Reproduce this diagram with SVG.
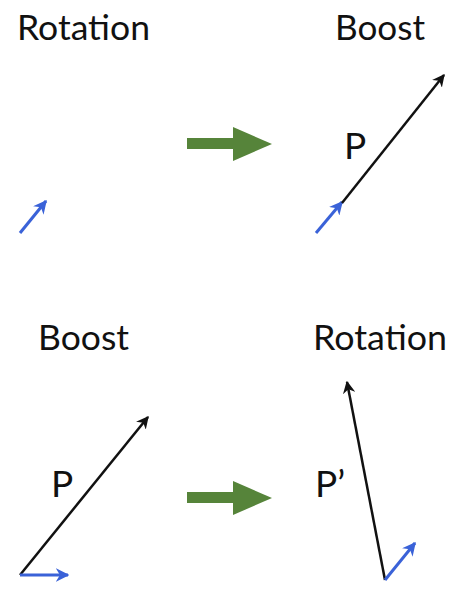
<svg xmlns="http://www.w3.org/2000/svg" width="457" height="600" viewBox="0 0 457 600">
<defs>
<style>
.t{font-family:"Lato","Open Sans","Liberation Sans",sans-serif;font-size:35px;fill:#111}
.p{font-size:37px}
.blk{stroke:#111;stroke-width:2.5;fill:none;marker-end:url(#ak)}
.blu{stroke:#3a62d8;stroke-width:3;fill:none;marker-end:url(#ab)}
.grn{fill:#56843a}
</style>
<marker id="ak" viewBox="0 0 10 10" refX="9" refY="5" markerWidth="5" markerHeight="5" orient="auto" markerUnits="strokeWidth"><path d="M0,0 L10,5 L0,10 L3,5 z" fill="#111"/></marker>
<marker id="ab" viewBox="0 0 10 10" refX="9" refY="5" markerWidth="4.5" markerHeight="4.5" orient="auto" markerUnits="strokeWidth"><path d="M0,0 L10,5 L0,10 L3,5 z" fill="#3a62d8"/></marker>
</defs>
<g id="labels">
<text class="t" x="17" y="40" textLength="133" lengthAdjust="spacingAndGlyphs">Rotation</text>
<text class="t" x="335" y="40" textLength="90" lengthAdjust="spacingAndGlyphs">Boost</text>
<text class="t" x="38" y="350" textLength="91" lengthAdjust="spacingAndGlyphs">Boost</text>
<text class="t" x="313" y="350" textLength="134" lengthAdjust="spacingAndGlyphs">Rotation</text>
<text class="t p" x="344" y="159">P</text>
<text class="t p" x="51" y="497">P</text>
<text class="t p" x="315" y="497">P’</text>
</g>
<g id="connectors">
<line class="blu" x1="20" y1="233" x2="46" y2="201"/>
<line class="blu" x1="316" y1="233" x2="342" y2="202"/>
<line class="blk" x1="342" y1="203" x2="444" y2="75"/>
<line class="blk" x1="20" y1="575" x2="148" y2="417"/>
<line class="blu" x1="20" y1="575" x2="68" y2="575"/>
<line class="blk" x1="385" y1="580" x2="347" y2="382"/>
<line class="blu" x1="385" y1="580" x2="415" y2="543"/>
</g>
<g id="arrow-top">
<rect class="grn" x="187" y="138" width="47" height="11"/>
<polygon class="grn" points="233,127 272,144 233,161"/>
</g>
<g id="arrow-bottom">
<rect class="grn" x="187" y="492" width="47" height="11"/>
<polygon class="grn" points="233,481 272,498 233,515"/>
</g>
</svg>
